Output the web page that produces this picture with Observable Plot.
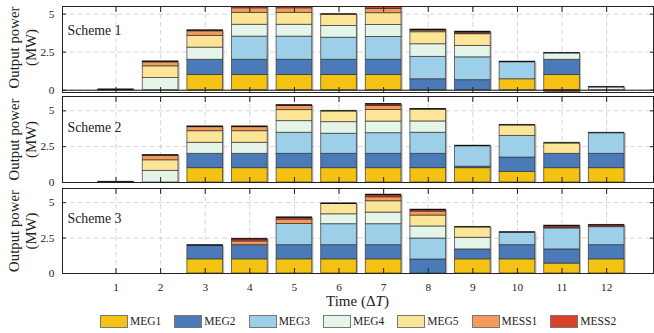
<!DOCTYPE html>
<html><head><meta charset="utf-8">
<script src="https://cdn.jsdelivr.net/npm/d3@7"></script>
<script src="https://cdn.jsdelivr.net/npm/@observablehq/plot@0.6"></script>
<style>
body{margin:0;background:#fff;font-family:"Liberation Serif","Times New Roman",serif;color:#222}
#wrap{position:relative;width:654px;height:333px;overflow:hidden;background:#fff}
.panel{position:absolute;left:0;overflow:visible}
#xlabel{position:absolute;top:292px;left:62px;width:591px;text-align:center;font-size:15px;line-height:18px;color:#222}
#legend{position:absolute;top:314px;left:100px;display:flex;align-items:center;font-size:11.5px;line-height:14px;color:#222}
.item{display:flex;align-items:center;margin-right:13px}
.sw{width:28px;height:13px;border:1px solid #777;margin-right:2px;box-sizing:border-box}
</style></head>
<body><div id="wrap"><div id="xlabel">Time (Δ<i>T</i>)</div><div id="legend"></div></div>
<script>
const periods = [1,2,3,4,5,6,7,8,9,10,11,12];
const series = ["MEG1","MEG2","MEG3","MEG4","MEG5","MESS1","MESS2"];
const colors = ["#f3c212","#4a7ab7","#9ecfe8","#e5f5e9","#fde597","#f69a5b","#d9412b"];
const yTicks = [0, 2.5, 5];
const schemeNames = ["Scheme 1","Scheme 2","Scheme 3"];

// Scheme 1 (MW per period)
const s1_MEG1  = [0, 0, 1.0, 1.0, 1.0, 1.0, 1.0, 0, 0, 0.72, 1.0, 0];
const s1_MEG2  = [0.05, 0, 1.0, 1.0, 1.0, 1.0, 1.0, 0.72, 0.66, 0, 1.0, 0];
const s1_MEG3  = [0, 0, 0, 1.52, 1.52, 1.45, 1.5, 1.47, 1.5, 1.16, 0, 0];
const s1_MEG4  = [0, 0.8, 0.8, 0.78, 0.78, 0.77, 0.79, 0.83, 0.75, 0, 0.45, 0.22];
const s1_MEG5  = [0, 0.77, 0.77, 0.78, 0.78, 0.78, 0.77, 0.79, 0.77, 0, 0, 0];
const s1_MESS1 = [0, 0.26, 0.3, 0.3, 0.3, 0, 0.28, 0.1, 0.05, 0, 0, 0];
const s1_MESS2 = [0, 0.06, 0.07, 0.2, 0.2, 0, 0.2, 0.08, 0.12, 0, -0.1, 0];

// Scheme 2
const s2_MEG1  = [0, 0, 1, 1, 1, 1, 1, 1, 1, 0.74, 1, 1];
const s2_MEG2  = [0.05, 0, 1, 1, 1, 1, 1, 1, 0.1, 1, 1, 1];
const s2_MEG3  = [0, 0, 0, 0, 1.47, 1.4, 1.44, 1.47, 1.47, 1.51, 0, 1.47];
const s2_MEG4  = [0, 0.81, 0.77, 0.77, 0.81, 0.81, 0.81, 0.79, 0, 0, 0, 0];
const s2_MEG5  = [0, 0.74, 0.81, 0.81, 0.77, 0.79, 0.81, 0.84, 0, 0.77, 0.77, 0];
const s2_MESS1 = [0, 0.3, 0.28, 0.28, 0.3, 0, 0.28, 0, 0, 0, 0, 0];
const s2_MESS2 = [0, 0.07, 0.05, 0.05, 0.05, 0, 0.14, 0.03, 0, 0, 0, 0];

// Scheme 3
const s3_MEG1  = [0, 0, 1, 1, 1, 1, 1, 0, 1, 1, 0.7, 1];
const s3_MEG2  = [0, 0, 1, 1, 1, 1, 1, 0.99, 0.7, 1, 1, 1];
const s3_MEG3  = [0, 0, 0, 0, 1.5, 1.48, 1.48, 1.48, 0, 0.92, 1.48, 1.27];
const s3_MEG4  = [0, 0, 0, 0, 0, 0.7, 0.82, 0.85, 0.82, 0, 0, 0];
const s3_MEG5  = [0, 0, 0, 0, 0, 0.77, 0.8, 0.77, 0.77, 0, 0, 0];
const s3_MESS1 = [0, 0, 0, 0.26, 0.3, 0, 0.28, 0.28, 0, 0, 0.05, 0];
const s3_MESS2 = [0, 0, 0, 0.19, 0.16, 0, 0.19, 0.14, 0, 0, 0.15, 0.16];

const schemes = [
  [s1_MEG1, s1_MEG2, s1_MEG3, s1_MEG4, s1_MEG5, s1_MESS1, s1_MESS2],
  [s2_MEG1, s2_MEG2, s2_MEG3, s2_MEG4, s2_MEG5, s2_MESS1, s2_MESS2],
  [s3_MEG1, s3_MEG2, s3_MEG3, s3_MEG4, s3_MEG5, s3_MESS1, s3_MESS2]
];

function rowsFor(arrs) {
  const rows = [];
  series.forEach((s, i) => periods.forEach((t, j) => {
    const v = arrs[i][j];
    if (v !== 0) rows.push({t, series: s, value: v});
  }));
  return rows;
}
function topsFor(arrs) {
  return periods.map((t, j) => ({t, total: d3.sum(arrs, a => Math.max(0, a[j]))})).filter(d => d.total > 0);
}

const layouts = [
  {top: 0,   height: 100, mt: 6, mb: 8,  domain: [-0.15, 5.5], zero: true,  nameDy: 19, showX: false},
  {top: 93,  height: 97,  mt: 3, mb: 8,  domain: [0, 6],       zero: false, nameDy: 26, showX: false},
  {top: 183, height: 112, mt: 5, mb: 22, domain: [0, 6],       zero: false, nameDy: 25, showX: true}
];

const wrap = document.getElementById("wrap");
const font = {fontFamily: '"Liberation Serif","Times New Roman",serif', fontSize: "11.3px", color: "#222", background: "transparent", overflow: "visible"};

layouts.forEach((L, k) => {
  const rows = rowsFor(schemes[k]);
  const tops = topsFor(schemes[k]);
  const bar = {x1: d => d.t - 0.4, x2: d => d.t + 0.4, y: "value", clip: true};
  const marks = [
    Plot.gridX(periods, {stroke: "#d6d6d6", strokeOpacity: 1, strokeDasharray: "5,3"}),
    Plot.gridY(yTicks, {stroke: "#d6d6d6", strokeOpacity: 1, strokeDasharray: "5,3"}),
    Plot.rectY(rows, {...bar, fill: "#a0a0a0", fillOpacity: 0.75, dx: 1.6, dy: 0.8}),
    Plot.rectY(rows, {...bar, fill: "series", stroke: "#333", strokeOpacity: 0.75, strokeWidth: 0.9}),
    Plot.ruleY(tops, {x1: d => d.t - 0.4, x2: d => d.t + 0.4, y: "total", stroke: "#111", strokeWidth: 1.2, clip: true}),
    L.zero ? Plot.ruleY([0], {stroke: "#111", strokeWidth: 1}) : null,
    Plot.frame({stroke: "#222", strokeWidth: 1}),
    Plot.axisX(periods, {anchor: "top", tickSize: 5, dy: 5, tickFormat: () => "", label: null, stroke: "#222"}),
    Plot.axisX(periods, {anchor: "bottom", tickSize: 5, dy: -5, tickFormat: () => "", label: null, stroke: "#222"}),
    Plot.axisY(yTicks, {anchor: "left", tickSize: 4, dx: 4, tickFormat: () => "", label: null, stroke: "#222"}),
    Plot.axisY(yTicks, {anchor: "right", tickSize: 4, dx: -4, tickFormat: () => "", label: null, stroke: "#222"}),
    Plot.axisY(yTicks, {anchor: "left", tickSize: 0, tickPadding: 8, tickFormat: d => String(d), label: null, fontSize: 11.3}),
    L.showX ? Plot.axisX(periods, {anchor: "bottom", tickSize: 0, tickPadding: 9, tickFormat: d => String(d), label: null, fontSize: 11.3}) : null,
    Plot.text([schemeNames[k]], {text: d => d, frameAnchor: "top-left", dx: 5, dy: L.nameDy, textAnchor: "start", fontSize: 13.8, fill: "#222"}),
    Plot.text(["Output power\n(MW)"], {text: d => d, frameAnchor: "left", dx: -40.5, dy: k === 0 ? -2 : 0, rotate: -90, fontSize: 14.8, lineHeight: 1.15, textAnchor: "middle", fill: "#222"})
  ].filter(Boolean);

  const chart = Plot.plot({
    width: 654,
    height: L.height,
    marginTop: L.mt,
    marginBottom: L.mb,
    marginLeft: 62,
    marginRight: 1,
    style: font,
    x: {type: "linear", domain: [-0.2, 13.05]},
    y: {domain: L.domain},
    color: {domain: series, range: colors},
    marks
  });
  chart.classList.add("panel");
  chart.style.top = L.top + "px";
  chart.style.position = "absolute";
  wrap.appendChild(chart);
});

const legend = document.getElementById("legend");
series.forEach((s, i) => {
  const it = document.createElement("div");
  it.className = "item";
  const sw = document.createElement("div");
  sw.className = "sw";
  sw.style.background = colors[i];
  const lab = document.createElement("span");
  lab.textContent = s;
  it.appendChild(sw); it.appendChild(lab);
  legend.appendChild(it);
});
</script>
</body></html>
